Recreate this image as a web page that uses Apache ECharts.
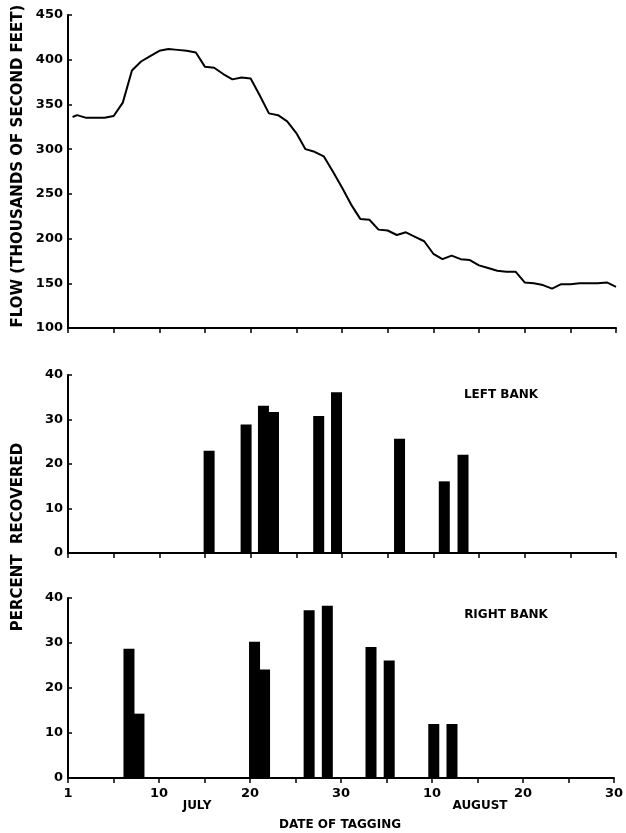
<!DOCTYPE html>
<html>
<head>
<meta charset="utf-8">
<script src="https://cdn.jsdelivr.net/npm/echarts@6/dist/echarts.min.js"></script>
<style>
    html, body { margin: 0; padding: 0; background: #fff; }
    #chart { width: 626px; height: 833px; }
</style>
</head>
<body>
<div id="chart"></div>
<script>
// day index on the drawn date axis: 0 = July 1 ... 60 = August 30
var flowDays = [0.5, 1, 2, 3, 4, 5, 6, 7, 8, 9, 10, 11, 12, 13, 14, 15, 16, 17, 18, 19, 20,
    21, 22, 23, 24, 25, 26, 27, 28, 29, 30, 31, 32, 33, 34, 35, 36, 37, 38, 39, 40,
    41, 42, 43, 44, 45, 46, 47, 48, 49, 50, 51, 52, 53, 54, 55, 56, 57, 58, 59, 60];
// flow, thousands of second feet
var flowValues = [336, 338, 335, 335, 335, 337, 352, 388, 398, 404, 410, 412, 411, 410, 408, 392, 391, 384, 378, 380, 379,
    360, 340, 338, 331, 318, 300, 297, 292, 275, 257, 238, 222, 221, 210, 209, 204, 207, 202, 197, 183,
    177, 181, 177, 176, 170, 167, 164, 163, 163, 151, 150, 148, 144, 149, 149, 150, 150, 150, 151, 146];

var leftBankDays = [15.45, 19.5, 21.4, 22.5, 27.45, 29.4, 36.3, 41.2, 43.25];
var leftBankPercent = [23, 28.9, 33.1, 31.7, 30.8, 36.1, 25.7, 16.1, 22.1];

var rightBankDays = [6.7, 7.8, 20.5, 21.6, 26.5, 28.5, 33.3, 35.3, 40.2, 42.2];
var rightBankPercent = [28.7, 14.3, 30.3, 24.1, 37.3, 38.3, 29.1, 26.1, 12, 12];

var dateTickValues = [0, 10, 20, 30, 40, 50, 60];
var dateTickLabels = ['1', '10', '20', '30', '10', '20', '30'];

(function () {
    var myChart = echarts.init(document.getElementById('chart'));
    var font = '"DejaVu Sans", sans-serif';

    function pairs(xs, ys) {
        return xs.map(function (x, i) { return [x, ys[i]]; });
    }

    //x轴 (date of tagging)
    function dateAxis(gridIndex, showLabels) {
        return {
            type: 'value',
            gridIndex: gridIndex,
            min: 0,
            max: 60,
            interval: 5,
            splitLine: { show: false },
            axisLine: { lineStyle: { color: '#000', width: 2 } },
            axisTick: { inside: false, length: 5, lineStyle: { color: '#000', width: 1.5 } },
            axisLabel: {
                show: showLabels,
                color: '#000',
                fontFamily: font,
                fontWeight: 'bold',
                fontSize: 13,
                margin: 9,
                showMinLabel: true,
                showMaxLabel: true,
                formatter: function (v) {
                    var i = dateTickValues.indexOf(v);
                    return i >= 0 ? dateTickLabels[i] : '';
                }
            }
        };
    }

    //y轴
    function valueAxis(gridIndex, min, max, interval) {
        return {
            type: 'value',
            gridIndex: gridIndex,
            min: min,
            max: max,
            interval: interval,
            splitLine: { show: false },
            axisLine: { show: true, lineStyle: { color: '#000', width: 2 } },
            axisTick: { show: true, inside: true, length: 4, lineStyle: { color: '#000', width: 1.5 } },
            axisLabel: {
                color: '#000',
                fontFamily: font,
                fontWeight: 'bold',
                fontSize: 13,
                margin: 5
            }
        };
    }

    function label(text, x, y, size, rotate) {
        return {
            type: 'text',
            x: x,
            y: y,
            rotation: rotate ? Math.PI / 2 : 0,
            style: {
                text: text,
                font: 'bold ' + size + 'px ' + font,
                fill: '#000',
                textAlign: 'center',
                textVerticalAlign: 'middle'
            }
        };
    }

    var option = {
        animation: false,
        backgroundColor: '#fff',
        grid: [
            { left: 68, right: 10, top: 15, height: 313 },
            { left: 68, right: 10, top: 375, height: 178 },
            { left: 68, right: 10, top: 598, height: 180 }
        ],
        xAxis: [dateAxis(0, false), dateAxis(1, false), dateAxis(2, true)],
        yAxis: [valueAxis(0, 100, 450, 50), valueAxis(1, 0, 40, 10), valueAxis(2, 0, 40, 10)],
        graphic: [
            label('FLOW (THOUSANDS OF SECOND FEET)', 18, 166, 15, true),
            label('PERCENT  RECOVERED', 18, 537, 15, true),
            label('LEFT BANK', 501, 395, 12, false),
            label('RIGHT BANK', 506, 615, 12, false),
            label('JULY', 197, 806, 12, false),
            label('AUGUST', 480, 806, 12, false),
            label('DATE OF TAGGING', 340, 825, 12, false)
        ],
        series: [
            {
                type: 'line',
                xAxisIndex: 0,
                yAxisIndex: 0,
                showSymbol: false,
                lineStyle: { color: '#000', width: 2 },
                data: pairs(flowDays, flowValues)
            },
            {
                type: 'bar',
                xAxisIndex: 1,
                yAxisIndex: 1,
                barWidth: 11,
                itemStyle: { color: '#000' },
                data: pairs(leftBankDays, leftBankPercent)
            },
            {
                type: 'bar',
                xAxisIndex: 2,
                yAxisIndex: 2,
                barWidth: 11,
                itemStyle: { color: '#000' },
                data: pairs(rightBankDays, rightBankPercent)
            }
        ]
    };
    myChart.setOption(option);
})();
</script>
</body>
</html>
